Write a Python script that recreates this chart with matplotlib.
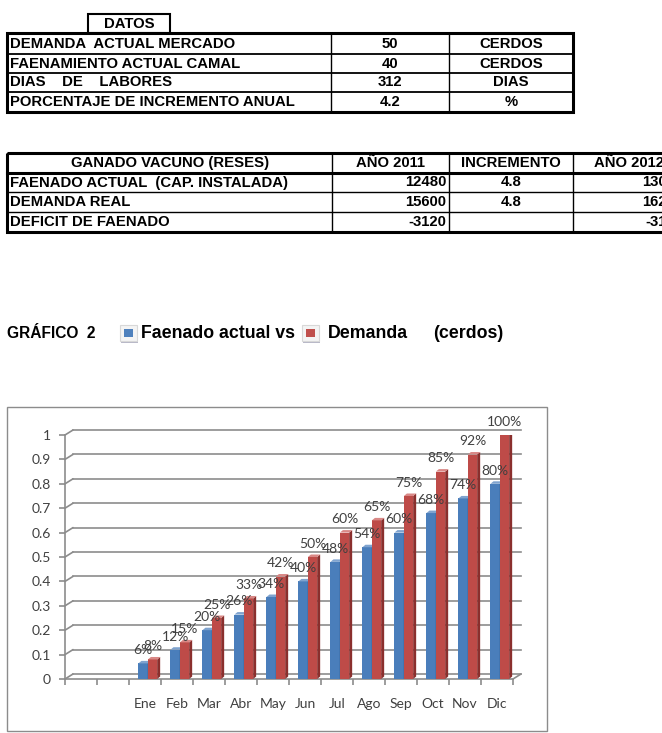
import matplotlib.pyplot as plt
from matplotlib.patches import Rectangle, Polygon
import matplotlib.transforms as mtransforms

# datos de las tablas
datos_etiquetas = ['DEMANDA  ACTUAL MERCADO', 'FAENAMIENTO ACTUAL CAMAL', 'DIAS    DE    LABORES',
                   'PORCENTAJE DE INCREMENTO ANUAL']
datos_valores = ['50', '40', '312', '4.2']
datos_unidades = ['CERDOS', 'CERDOS', 'DIAS', '%']

vacuno_encabezado = ['GANADO VACUNO (RESES)', 'AÑO 2011', 'INCREMENTO', 'AÑO 2012']
vacuno_filas = ['FAENADO ACTUAL  (CAP. INSTALADA)', 'DEMANDA REAL', 'DEFICIT DE FAENADO']
vacuno_2011 = ['12480', '15600', '-3120']
vacuno_incremento = ['4.8', '4.8', '']
vacuno_2012 = ['13079', '16255', '-3176']

# datos del grafico
meses = ['', '', 'Ene', 'Feb', 'Mar', 'Abr', 'May', 'Jun', 'Jul', 'Ago', 'Sep', 'Oct', 'Nov', 'Dic']
faenado = [0.064, 0.12, 0.20, 0.264, 0.336, 0.40, 0.48, 0.54, 0.60, 0.68, 0.74, 0.80]
demanda = [0.08, 0.15, 0.25, 0.33, 0.42, 0.50, 0.60, 0.65, 0.75, 0.85, 0.92, 1.00]
y_ticks = [0, 0.1, 0.2, 0.3, 0.4, 0.5, 0.6, 0.7, 0.8, 0.9, 1]
y_labels = ['0', '0.1', '0.2', '0.3', '0.4', '0.5', '0.6', '0.7', '0.8', '0.9', '1']

W, H = 662, 733
fig = plt.figure(figsize=(W / 100, H / 100), dpi=100)

# capa en pixeles para las tablas
ax0 = fig.add_axes([0, 0, 1, 1])
ax0.set_xlim(0, W)
ax0.set_ylim(H, 0)
ax0.axis('off')

fuente = dict(family='Liberation Sans', weight='bold', fontsize=10.7, color='black')
grueso = 2.2
fino = 1.0

# ---- tabla DATOS ----
ax0.add_patch(Rectangle((88, 14), 82, 19, fill=False, lw=1.5, ec='black'))
ax0.text(129, 23.5, 'DATOS', ha='center', va='center', **fuente)
filas1 = [33, 54, 73, 92, 112]
ax0.add_patch(Rectangle((7, 33), 566, 79, fill=False, lw=grueso, ec='black', zorder=3))
for y in filas1[1:-1]:
    ax0.plot([7, 573], [y, y], color='black', lw=1.3)
for x in [331, 449]:
    ax0.plot([x, x], [33, 112], color='black', lw=fino)
for i in range(4):
    yc = (filas1[i] + filas1[i + 1]) / 2
    ax0.text(10, yc, datos_etiquetas[i], ha='left', va='center', **fuente)
    ax0.text(390, yc, datos_valores[i], ha='center', va='center', **fuente)
    ax0.text(511, yc, datos_unidades[i], ha='center', va='center', **fuente)

# ---- tabla GANADO VACUNO ----
filas2 = [153, 173, 192, 212, 232]
ax0.add_patch(Rectangle((7, 153), 700, 79, fill=False, lw=grueso, ec='black', zorder=3))
ax0.plot([7, 700], [173, 173], color='black', lw=grueso)
for y in filas2[2:-1]:
    ax0.plot([7, 700], [y, y], color='black', lw=fino)
for x in [332, 449, 573, 686]:
    ax0.plot([x, x], [153, 232], color='black', lw=fino)
yc = (filas2[0] + filas2[1]) / 2
for xc, txt in zip([170, 390, 511, 629], vacuno_encabezado):
    ax0.text(xc, yc, txt, ha='center', va='center', **fuente)
for i in range(3):
    yc = (filas2[i + 1] + filas2[i + 2]) / 2
    ax0.text(10, yc, vacuno_filas[i], ha='left', va='center', **fuente)
    ax0.text(446, yc, vacuno_2011[i], ha='right', va='center', **fuente)
    ax0.text(511, yc, vacuno_incremento[i], ha='center', va='center', **fuente)
    ax0.text(683, yc, vacuno_2012[i], ha='right', va='center', **fuente)

# ---- titulo del grafico con iconos de leyenda ----
ax0.text(7, 333, 'GRÁFICO  2', ha='left', va='center', **dict(fuente, fontsize=11.2))
for x0, col in [(120, '#4f81bd'), (302, '#c0504d')]:
    ax0.add_patch(Rectangle((x0 + 1, 327), 17, 16, color='#b8b8c8', lw=0))
    ax0.add_patch(Rectangle((x0, 325), 17, 16, fc='#f4f4f4', ec='#d8d8d8', lw=0.8))
    ax0.add_patch(Rectangle((x0 + 4, 329), 9, 8, color=col, lw=0))
fuente_l = dict(fuente, fontsize=12.8)
ax0.text(141, 333, 'Faenado actual vs', ha='left', va='center', **fuente_l)
ax0.text(328, 333, 'Demanda', ha='left', va='center', **fuente_l)
ax0.text(433, 333, '(cerdos)', ha='left', va='center', **fuente_l)

# marco del grafico
ax0.add_patch(Rectangle((7, 407), 540, 324, fill=False, ec='#8c8c8c', lw=1))

# ---- grafico de barras ----
gris = '#8c8c8c'
ax = fig.add_axes([65 / W, 1 - 679 / H, (513 - 65) / W, (679 - 435) / H])
ax.set_xlim(-0.5, len(meses) - 0.5)
ax.set_ylim(0, 1)
ax.patch.set_visible(False)
for s in ['top', 'right']:
    ax.spines[s].set_visible(False)
for s in ['left', 'bottom']:
    ax.spines[s].set_color(gris)
    ax.spines[s].set_linewidth(1.2)

# paredes del fondo (efecto 3D)
fondo = ax.transData + mtransforms.ScaledTranslation(8 / 100, 5 / 100, fig.dpi_scale_trans)
x_ini, x_fin = -0.5, len(meses) - 0.5
for y in y_ticks:
    ax.plot([x_ini, x_fin], [y, y], color=gris, lw=1.2, transform=fondo, clip_on=False)
    ax.annotate('', xy=(x_ini, y), xycoords=fondo, xytext=(x_ini, y), textcoords='data',
                arrowprops=dict(arrowstyle='-', color=gris, lw=1.2, shrinkA=0, shrinkB=0))
ax.annotate('', xy=(x_fin, 0), xycoords=fondo, xytext=(x_fin, 0), textcoords='data',
            arrowprops=dict(arrowstyle='-', color=gris, lw=1.2, shrinkA=0, shrinkB=0))

# barras
ancho = 0.29
dx = 3 / 32
dy = 2.5 / 244
pos = list(range(2, len(meses)))
series = [(faenado, -0.06, '#4a7ebb', '#2f5f96', '#7fa3cf'),
          (demanda, 0.235, '#be4b48', '#8a2f2d', '#d98886')]
for valores, desp, c_frente, c_lado, c_tope in series:
    xs = [p + desp for p in pos]
    ax.bar(xs, valores, width=ancho, color=c_frente, zorder=3)
    for x, h in zip(xs, valores):
        xr = x + ancho / 2
        xl = x - ancho / 2
        ax.add_patch(Polygon([(xr, 0), (xr, h), (xr + dx, h + dy), (xr + dx, dy)],
                             closed=True, color=c_lado, lw=0, zorder=3))
        ax.add_patch(Polygon([(xl, h), (xr, h), (xr + dx, h + dy), (xl + dx, h + dy)],
                             closed=True, color=c_tope, lw=0, zorder=3))
        ax.annotate('{:.0%}'.format(h), (x, h), xytext=(0, 9.5), textcoords='offset points',
                    ha='center', va='center', fontsize=10, family='Lato', color='#404040',
                    zorder=4)

# ejes
ax.set_yticks(y_ticks)
ax.set_yticklabels(y_labels)
ax.tick_params(axis='y', length=4, color=gris, width=1.2, pad=6, labelsize=10,
               labelcolor='#404040')
ax.set_xticks([i - 0.5 for i in range(len(meses) + 1)])
ax.set_xticklabels([])
ax.tick_params(axis='x', which='major', length=4, color=gris, width=1.2)
ax.set_xticks(list(range(len(meses))), meses, minor=True)
ax.tick_params(axis='x', which='minor', length=0, pad=14, labelsize=10, labelcolor='#404040')
for t in ax.get_xticklabels(minor=True) + ax.get_yticklabels():
    t.set_family('Lato')

fig.savefig('out.png', dpi=100)
